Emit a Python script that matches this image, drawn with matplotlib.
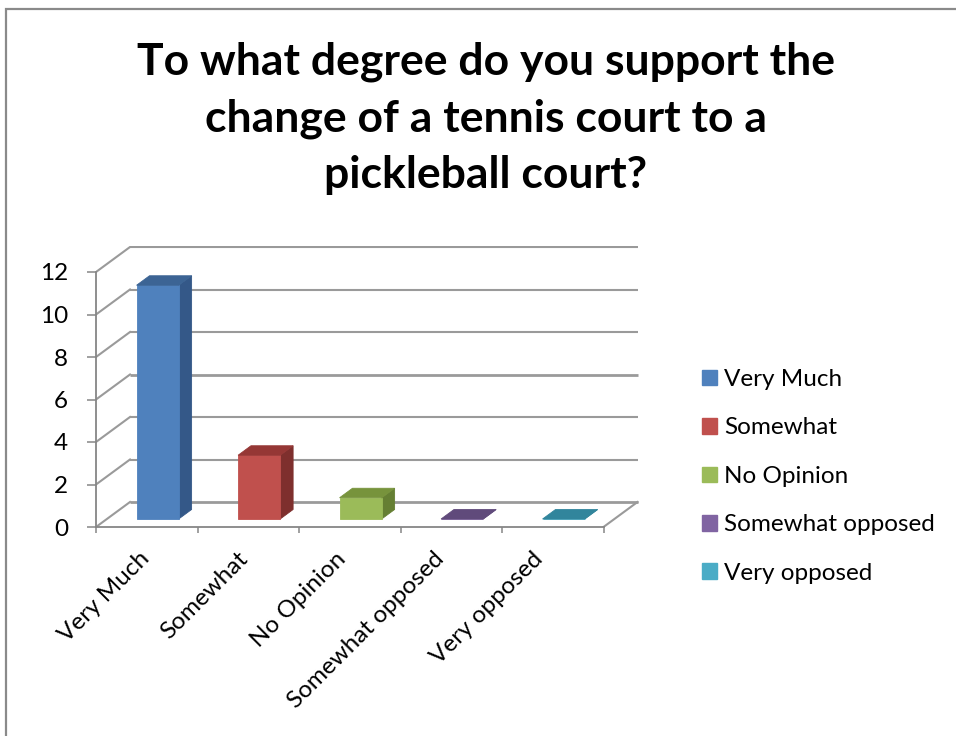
import matplotlib

matplotlib.use("Agg")
import matplotlib.pyplot as plt
import numpy as np
from matplotlib.patches import Patch, Rectangle

# data
categories = ["Very Much", "Somewhat", "No Opinion", "Somewhat opposed", "Very opposed"]
values = [11, 3, 1, 0, 0]
y_ticks = [0, 2, 4, 6, 8, 10, 12]
title_lines = [
    "To what degree do you support the",
    "change of a tennis court to a",
    "pickleball court?",
]

# face colours per series: front, side, top
front_colors = ["#4F81BD", "#C0504D", "#9BBB59", "#8064A2", "#4BACC6"]
side_colors = ["#345888", "#7E2F2D", "#657F33", "#5B4677", "#2D7F93"]
top_colors = ["#3C6494", "#953735", "#77933C", "#604A7B", "#31859C"]

GRID = "#9a9a9a"
AXIS = "#868686"
FONT = "Lato"
LABEL_SIZE = 17.5

W, H = 956, 736
fig = plt.figure(figsize=(W / 100, H / 100), dpi=100)

# plot area in pixels: front axis 96..603.5 (5 cats), 0..12 -> 527..272
cat_px = 101.5
val_px = 21.25
left_px, right_px, top_px, bot_px = 96, 641, 246, 527
ax = fig.add_axes([
    left_px / W,
    1 - bot_px / H,
    (right_px - left_px) / W,
    (bot_px - top_px) / H,
])
ax.set_xlim(0, (right_px - left_px) / cat_px)
ax.set_ylim(0, (bot_px - top_px) / val_px)
ax.patch.set_visible(False)

# depth of the 3d box, in data units
DX = 34 / cat_px
DY = 25 / val_px
BAR_W = 0.415
D0, D1 = 0.32, 0.70
n = len(categories)


def proj(x, y, d):
    return x + d * DX, y + d * DY


# back wall + left wall gridlines
for v in y_ticks:
    lw = 2.0 if v in (0, 6) else 1.5
    ax.plot([DX, n + DX], [v + DY, v + DY], color=GRID, lw=lw, zorder=1,
            solid_capstyle="butt")
    ax.plot([0, DX], [v, v + DY], color=GRID, lw=1.5, zorder=1)
ax.plot([n, n + DX], [0, DY], color=GRID, lw=1.5, zorder=1)

# 3d columns
for i, v in enumerate(values):
    x0 = i + 0.5 - BAR_W / 2
    x1 = x0 + BAR_W
    front = [proj(x0, 0, D0), proj(x1, 0, D0), proj(x1, v, D0), proj(x0, v, D0)]
    side = [proj(x1, 0, D0), proj(x1, 0, D1), proj(x1, v, D1), proj(x1, v, D0)]
    top = [proj(x0, v, D0), proj(x1, v, D0), proj(x1, v, D1), proj(x0, v, D1)]
    for pts, c in ((side, side_colors[i]), (front, front_colors[i]), (top, top_colors[i])):
        xs, ys = zip(*pts)
        ax.fill(xs, ys, color=c, lw=0.6, ec=c, zorder=3)

# axes
for s in ("top", "right"):
    ax.spines[s].set_visible(False)
ax.spines["left"].set_bounds(0, 12)
ax.spines["bottom"].set_bounds(0, n)
for s in ("left", "bottom"):
    ax.spines[s].set_color(AXIS)
    ax.spines[s].set_linewidth(1.3)
    ax.spines[s].set_zorder(4)

ax.set_yticks(y_ticks)
ax.set_yticklabels([str(t) for t in y_ticks], fontsize=LABEL_SIZE, family=FONT)
ax.tick_params(axis="y", direction="out", length=6.5, width=1.1, color=AXIS, pad=13.5)

ax.set_xticks(np.arange(n + 1))
ax.set_xticklabels([])
ax.tick_params(axis="x", which="major", direction="out", length=4.5, width=1.1, color=AXIS)
ax.set_xticks(np.arange(n) * 0.968 + 0.42, minor=True)
ax.set_xticklabels(categories, minor=True, rotation=45, ha="right", va="top",
                   rotation_mode="anchor", fontsize=LABEL_SIZE, family=FONT)
ax.tick_params(axis="x", which="minor", length=0, pad=15)

# title
for k, line in enumerate(title_lines):
    fig.text(486 / W, 1 - (75 + 56.5 * k) / H, line, ha="center", va="baseline",
             fontsize=32, fontweight="bold", family=FONT)

# legend
handles = [Patch(color=c, label=lab) for c, lab in zip(front_colors, categories)]
fig.legend(handles=handles, loc="upper left", bbox_to_anchor=(702 / W, 1 - 369 / H),
           frameon=False, prop={"family": FONT, "size": LABEL_SIZE},
           handlelength=0.62, handleheight=0.62, handletextpad=0.3,
           labelspacing=1.13, borderpad=0, borderaxespad=0)

# chart border (left and top edges only visible)
fig.add_artist(Rectangle((5.5 / W, -0.1), 2, 1.1 - 9 / H, transform=fig.transFigure,
                         fill=False, ec="#8a8a8a", lw=1.6))

fig.savefig("out.png", dpi=100)
